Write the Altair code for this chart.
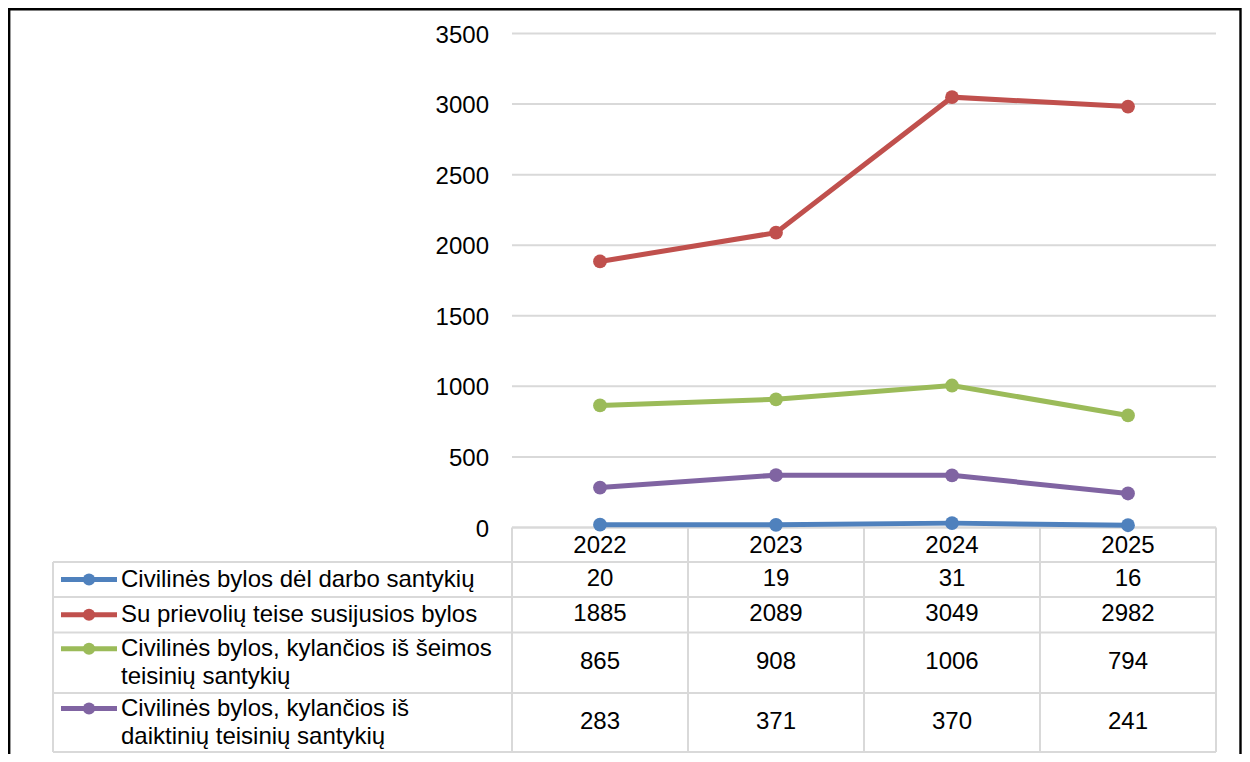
import altair as alt
import pandas as pd

# ---------------- data ----------------
years = ["2022", "2023", "2024", "2025"]
series = [
    "Civilinės bylos dėl darbo santykių",
    "Su prievolių teise susijusios bylos",
    "Civilinės bylos, kylančios iš šeimos teisinių santykių",
    "Civilinės bylos, kylančios iš daiktinių teisinių santykių",
]
row_labels = [
    "Civilinės bylos dėl darbo santykių",
    "Su prievolių teise susijusios bylos",
    "Civilinės bylos, kylančios iš šeimos\nteisinių santykių",
    "Civilinės bylos, kylančios iš\ndaiktinių teisinių santykių",
]
darbo = [20, 19, 31, 16]
prievoliu = [1885, 2089, 3049, 2982]
seimos = [865, 908, 1006, 794]
daiktiniu = [283, 371, 370, 241]
values = [darbo, prievoliu, seimos, daiktiniu]
colors = ["#4F81BD", "#C0504D", "#9BBB59", "#8064A2"]
y_ticks = [0, 500, 1000, 1500, 2000, 2500, 3000, 3500]

# ---------------- layout ----------------
FONT = "Liberation Sans"
FS = 24
col_w = 176.0
legend_w = 459.0
n = len(years)
W = legend_w + n * col_w
plot_h = 494.0
header_h = 34.5
row_h = [35.0, 35.5, 60.5, 59.0]
table_h = header_h + sum(row_h)
H = plot_h + table_h
line_h = 28.0
L = legend_w / col_w
grid_col = "#d9d9d9"

ymax = 3500.0
ymin = -ymax * table_h / plot_h
xscale = alt.Scale(domain=[-L, n], nice=False, zero=False)
yscale = alt.Scale(domain=[ymin, ymax], nice=False, zero=False)
tscale = alt.Scale(domain=[-plot_h, table_h], reverse=True, nice=False, zero=False)
cscale = alt.Scale(domain=series, range=colors)

# ---------------- frames ----------------
pts = pd.DataFrame(
    [
        {"series": s, "year": years[i], "xc": i + 0.5, "v": vals[i]}
        for s, vals in zip(series, values)
        for i in range(n)
    ]
)
ticks = pd.DataFrame({"tick": y_ticks, "x0": 0.0, "x1": float(n)})

bounds = [header_h]
for h in row_h:
    bounds.append(bounds[-1] + h)
centers = [(bounds[k] + bounds[k + 1]) / 2 for k in range(len(row_h))]
first_line = [c - lab.count("\n") * line_h / 2 for c, lab in zip(centers, row_labels)]

hlines = pd.DataFrame(
    {"y": [0.0] + bounds, "x0": [0.0] + [-L] * len(bounds), "x1": float(n)}
)
vlines = pd.DataFrame(
    {
        "x": [-L] + [float(i) for i in range(n + 1)],
        "y0": [header_h] + [0.0] * (n + 1),
        "y1": table_h,
    }
)
header = pd.DataFrame({"xc": [i + 0.5 for i in range(n)], "y": header_h / 2, "t": years})
cells = pd.DataFrame(
    [
        {"xc": i + 0.5, "y": centers[r], "t": str(values[r][i])}
        for r in range(len(series))
        for i in range(n)
    ]
)
labels = pd.DataFrame({"x": -L, "y": first_line, "label": row_labels, "series": series})
markers = pd.DataFrame({"x": -L, "y": first_line, "series": series})

# ---------------- layers ----------------
grid = alt.Chart(ticks).mark_rule(color=grid_col, strokeWidth=2).encode(
    x=alt.X("x0:Q", scale=xscale, axis=None),
    x2="x1:Q",
    y=alt.Y("tick:Q", scale=yscale, axis=None),
)
ylabels = alt.Chart(ticks).mark_text(
    font=FONT, fontSize=FS, color="black", align="right", baseline="middle", dx=-23, dy=2
).encode(
    x=alt.X("x0:Q", scale=xscale, axis=None),
    y=alt.Y("tick:Q", scale=yscale, axis=None),
    text="tick:Q",
)

th = alt.Chart(hlines).mark_rule(color=grid_col, strokeWidth=2).encode(
    x=alt.X("x0:Q", scale=xscale, axis=None),
    x2="x1:Q",
    y=alt.Y("y:Q", scale=tscale, axis=None),
)
tv = alt.Chart(vlines).mark_rule(color=grid_col, strokeWidth=2).encode(
    x=alt.X("x:Q", scale=xscale, axis=None),
    y=alt.Y("y0:Q", scale=tscale, axis=None),
    y2="y1:Q",
)

lines = alt.Chart(pts).mark_line(strokeWidth=5).encode(
    x=alt.X("xc:Q", scale=xscale, axis=None),
    y=alt.Y("v:Q", scale=yscale, axis=None),
    color=alt.Color("series:N", scale=cscale, legend=None),
    detail="series:N",
)
dots = alt.Chart(pts).mark_circle(size=190, opacity=1).encode(
    x=alt.X("xc:Q", scale=xscale, axis=None),
    y=alt.Y("v:Q", scale=yscale, axis=None),
    color=alt.Color("series:N", scale=cscale, legend=None),
)

htext = alt.Chart(header).mark_text(
    font=FONT, fontSize=FS, color="black", align="center", baseline="middle", dy=1
).encode(
    x=alt.X("xc:Q", scale=xscale, axis=None),
    y=alt.Y("y:Q", scale=tscale, axis=None),
    text="t:N",
)
ctext = alt.Chart(cells).mark_text(
    font=FONT, fontSize=FS, color="black", align="center", baseline="middle", dy=-1
).encode(
    x=alt.X("xc:Q", scale=xscale, axis=None),
    y=alt.Y("y:Q", scale=tscale, axis=None),
    text="t:N",
)
ltext = (
    alt.Chart(labels)
    .transform_calculate(lines="split(datum.label, '\\n')")
    .mark_text(
        font=FONT, fontSize=FS, color="black", align="left", baseline="middle",
        dx=68, dy=0, lineHeight=line_h,
    )
    .encode(
        x=alt.X("x:Q", scale=xscale, axis=None),
        y=alt.Y("y:Q", scale=tscale, axis=None),
        text="lines:N",
    )
)
mline = alt.Chart(markers).mark_rule(strokeWidth=5, xOffset=8, x2Offset=64).encode(
    x=alt.X("x:Q", scale=xscale, axis=None),
    x2="x:Q",
    y=alt.Y("y:Q", scale=tscale, axis=None),
    color=alt.Color("series:N", scale=cscale, legend=None),
)
mdot = alt.Chart(markers).mark_circle(size=150, opacity=1, xOffset=36).encode(
    x=alt.X("x:Q", scale=xscale, axis=None),
    y=alt.Y("y:Q", scale=tscale, axis=None),
    color=alt.Color("series:N", scale=cscale, legend=None),
)

frame = alt.Chart(pd.DataFrame({"a": [0]})).mark_rect(
    filled=False, stroke="black", strokeWidth=2.4
).encode(
    x=alt.value(-43.8),
    x2=alt.value(1187.5),
    y=alt.value(-24.3),
    y2=alt.value(760),
)

chart = (
    alt.layer(grid, th, tv, lines, dots, ylabels, htext, ctext, ltext, mline, mdot, frame)
    .resolve_scale(y="independent")
    .properties(
        width=W,
        height=H,
        autosize=alt.AutoSizeParams(type="none"),
        padding={"left": 45, "top": 25.5, "right": 26, "bottom": 2},
        background="white",
    )
    .configure_view(stroke=None)
)

chart.save("out.html", embed_options={"renderer": "svg", "actions": False})
